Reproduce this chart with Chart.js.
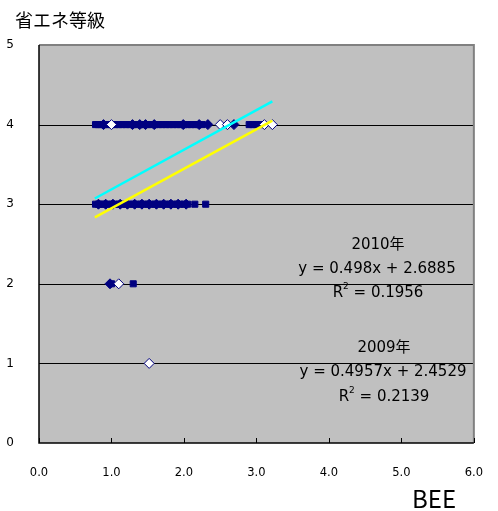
<!DOCTYPE html>
<html lang="ja">
<head>
<meta charset="UTF-8">
<title>省エネ等級 vs BEE</title>
<style>
  html, body { margin: 0; padding: 0; background: #fff; }
  #wrap { width: 498px; height: 511px; position: relative; }
</style>
</head>
<body>
<div id="wrap"><canvas id="chart" width="498" height="511"></canvas></div>
<script src="https://cdn.jsdelivr.net/npm/chart.js@4/dist/chart.umd.min.js"></script>
<script>
// 2010 (navy squares)
var bee2010 = [0.78, 0.82, 0.86, 0.9, 0.95, 1.0, 1.05, 1.1, 1.15, 1.2, 1.25, 1.3, 1.35, 1.4, 1.45, 1.5, 1.55, 1.6, 1.65, 1.7, 1.75, 1.8, 1.85, 1.9, 1.95, 2.0, 2.05, 2.1, 2.15, 2.2, 2.25, 2.9, 2.95, 3.0, 3.05,
               0.78, 0.82, 0.86, 0.9, 0.95, 1.0, 1.05, 1.1, 1.15, 1.2, 1.25, 1.3, 1.35, 1.4, 1.45, 1.5, 1.55, 1.6, 1.65, 1.7, 1.75, 1.8, 1.85, 1.9, 1.95, 2.0, 2.05, 2.15, 2.3,
               1.0, 1.3];
var grade2010 = [4, 4, 4, 4, 4, 4, 4, 4, 4, 4, 4, 4, 4, 4, 4, 4, 4, 4, 4, 4, 4, 4, 4, 4, 4, 4, 4, 4, 4, 4, 4, 4, 4, 4, 4,
                 3, 3, 3, 3, 3, 3, 3, 3, 3, 3, 3, 3, 3, 3, 3, 3, 3, 3, 3, 3, 3, 3, 3, 3, 3, 3, 3, 3, 3,
                 2, 2];

// 2009 (navy diamonds)
var bee2009 = [0.89, 1.29, 1.39, 1.47, 1.59, 1.99, 2.21, 2.33, 2.69,
               0.82, 0.92, 1.02, 1.12, 1.22, 1.32, 1.42, 1.52, 1.62, 1.72, 1.82, 1.92, 2.03,
               0.98];
var grade2009 = [4, 4, 4, 4, 4, 4, 4, 4, 4,
                 3, 3, 3, 3, 3, 3, 3, 3, 3, 3, 3, 3, 3,
                 2];

// 2009 (white diamonds)
var bee2009w = [1.0, 2.5, 2.6, 3.11, 3.22, 1.1, 1.52];
var grade2009w = [4, 4, 4, 4, 4, 2, 1];

// trendlines (from the printed equations)
var trendRange = [0.77, 3.22];
var slope2010 = 0.498, icpt2010 = 2.6885, r2010 = 0.1956;
var slope2009 = 0.4957, icpt2009 = 2.4529, r2009 = 0.2139;

var xTicks = [0, 1, 2, 3, 4, 5, 6];
var yTicks = [0, 1, 2, 3, 4, 5];

function pts(xs, ys) {
  return xs.map(function (x, i) { return { x: x, y: ys[i] }; });
}
function trend(m, b) {
  return trendRange.map(function (x) { return { x: x, y: m * x + b }; });
}

var FONT = '"DejaVu Sans", "Noto Sans CJK JP", sans-serif';
var JFONT = '"Noto Sans CJK JP", sans-serif';

var frame = {
  id: 'frame',
  beforeDatasetsDraw: function (chart) {
    var ctx = chart.ctx, a = chart.chartArea;
    ctx.save();
    ctx.fillStyle = '#c0c0c0';
    ctx.fillRect(a.left, a.top, a.right - a.left, a.bottom - a.top);
    ctx.strokeStyle = '#000';
    ctx.lineWidth = 1;
    var ys = chart.scales.y;
    [1, 2, 3, 4].forEach(function (v) {
      var py = Math.round(ys.getPixelForValue(v)) + 0.5;
      ctx.beginPath(); ctx.moveTo(a.left, py); ctx.lineTo(a.right, py); ctx.stroke();
    });
    ctx.restore();
  },
  afterDraw: function (chart) {
    var ctx = chart.ctx, a = chart.chartArea, xs = chart.scales.x;
    ctx.save();
    ctx.strokeStyle = '#808080';
    ctx.lineWidth = 2;
    ctx.beginPath();
    ctx.moveTo(a.left, a.top); ctx.lineTo(a.right, a.top); ctx.lineTo(a.right, a.bottom);
    ctx.stroke();
    ctx.strokeStyle = '#000';
    ctx.lineWidth = 1.5;
    ctx.beginPath();
    ctx.moveTo(a.left, a.top); ctx.lineTo(a.left, a.bottom); ctx.lineTo(a.right, a.bottom);
    ctx.stroke();
    ctx.lineWidth = 1;
    xTicks.forEach(function (v) {
      var px = Math.round(xs.getPixelForValue(v)) + 0.5;
      ctx.beginPath(); ctx.moveTo(px, a.bottom); ctx.lineTo(px, a.bottom - 5); ctx.stroke();
    });

    ctx.fillStyle = '#000';
    ctx.textBaseline = 'middle';
    ctx.font = '18px ' + JFONT;
    ctx.textAlign = 'left';
    ctx.fillText('省エネ等級', 15, 20);
    ctx.font = '24px ' + JFONT;
    ctx.fillText('BEE', 412, 499);

    ctx.textAlign = 'center';
    ctx.font = '15px ' + FONT;
    ctx.fillText('2010年', 378, 245);
    ctx.fillText('y = ' + slope2010 + 'x + ' + icpt2010, 377, 269);
    drawR2(ctx, r2010, 378, 293);
    ctx.fillText('2009年', 384, 348);
    ctx.fillText('y = ' + slope2009 + 'x + ' + icpt2009, 383, 372);
    drawR2(ctx, r2009, 384, 397);
    ctx.restore();
  }
};

function drawR2(ctx, r, cx, cy) {
  var rest = ' = ' + r.toFixed(4);
  ctx.font = '15px ' + FONT;
  var wR = ctx.measureText('R').width, wRest = ctx.measureText(rest).width;
  ctx.font = '9px ' + FONT;
  var w2 = ctx.measureText('2').width;
  var x0 = cx - (wR + w2 + wRest) / 2;
  ctx.textAlign = 'left';
  ctx.font = '15px ' + FONT;
  ctx.fillText('R', x0, cy);
  ctx.font = '9px ' + FONT;
  ctx.fillText('2', x0 + wR, cy - 6);
  ctx.font = '15px ' + FONT;
  ctx.fillText(rest, x0 + wR + w2, cy);
  ctx.textAlign = 'center';
}

new Chart(document.getElementById('chart'), {
  type: 'scatter',
  data: {
    datasets: [
      {
        type: 'line', label: '2010 trend', data: trend(slope2010, icpt2010),
        borderColor: '#00ffff', borderWidth: 2.5, pointRadius: 0, fill: false
      },
      {
        type: 'line', label: '2009 trend', data: trend(slope2009, icpt2009),
        borderColor: '#ffff00', borderWidth: 2.5, pointRadius: 0, fill: false
      },
      {
        label: '2009', data: pts(bee2009w, grade2009w),
        pointStyle: 'rectRot', pointRadius: 5, pointBorderWidth: 1,
        backgroundColor: '#ffffff', borderColor: '#000080'
      },
      {
        label: '2010', data: pts(bee2010, grade2010),
        pointStyle: 'rect', pointRadius: 4.3, pointBorderWidth: 1,
        backgroundColor: '#000080', borderColor: '#000080'
      },
      {
        label: '2009', data: pts(bee2009, grade2009),
        pointStyle: 'rectRot', pointRadius: 5, pointBorderWidth: 1,
        backgroundColor: '#000080', borderColor: '#000080'
      }
    ]
  },
  options: {
    responsive: false,
    animation: false,
    layout: { padding: { top: 45, right: 13, left: 0, bottom: 0 } },
    plugins: { legend: { display: false }, tooltip: { enabled: false } },
    scales: {
      x: {
        type: 'linear', min: 0, max: 6,
        afterFit: function (s) { s.height = 68; },
        afterBuildTicks: function (s) { s.ticks = xTicks.map(function (v) { return { value: v }; }); },
        grid: { display: false },
        border: { display: false },
        ticks: {
          color: '#000', padding: 15, maxRotation: 0,
          font: { family: FONT, size: 11.5 },
          callback: function (v) { return Number(v).toFixed(1); }
        }
      },
      y: {
        type: 'linear', min: 0, max: 5,
        afterFit: function (s) { s.width = 39; },
        afterBuildTicks: function (s) { s.ticks = yTicks.map(function (v) { return { value: v }; }); },
        grid: { display: false },
        border: { display: false },
        ticks: {
          color: '#000', padding: 17,
          font: { family: FONT, size: 12 }
        }
      }
    }
  },
  plugins: [frame]
});
</script>
</body>
</html>
